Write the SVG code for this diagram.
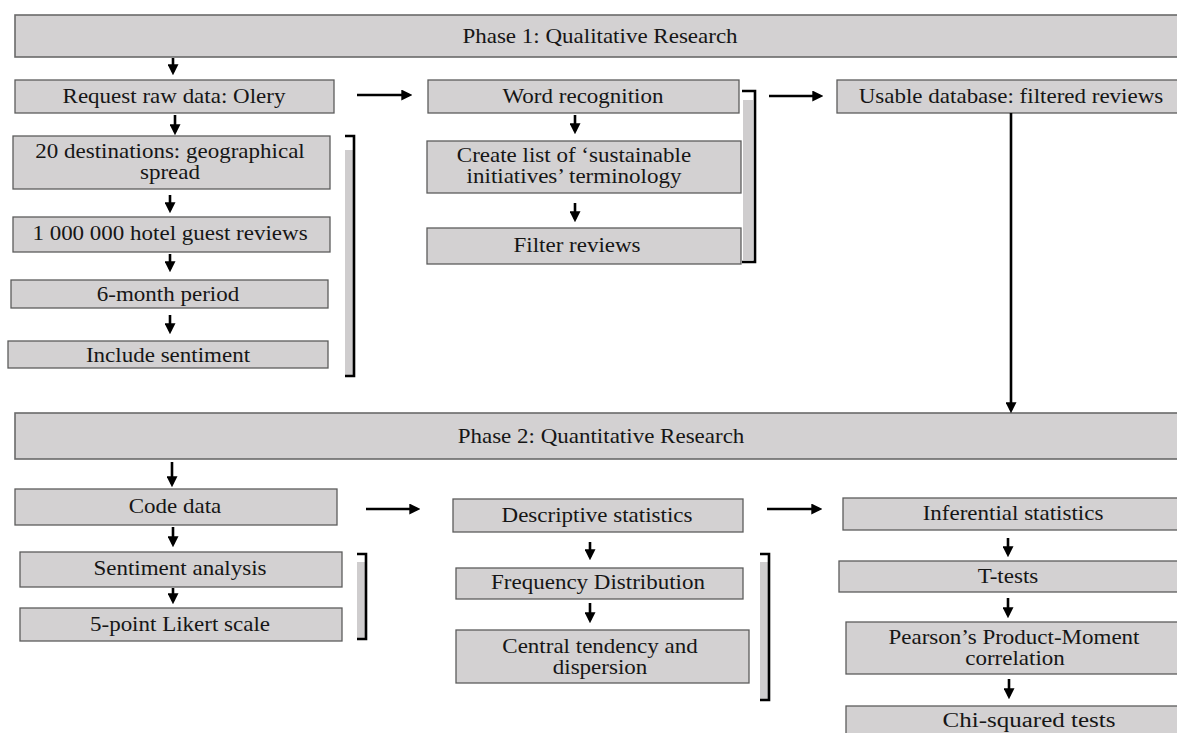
<svg xmlns="http://www.w3.org/2000/svg" width="1177" height="733" viewBox="0 0 1177 733">
<style>
.box{fill:#d3d1d2;stroke:#5c5c5c;stroke-width:1.3}
.bar{fill:#d3d1d2;stroke:#6a6a6a;stroke-width:1.6}
.t{font-family:"Liberation Serif","Times New Roman",serif;font-size:20px;fill:#161616;text-anchor:middle}
.c{stroke:#000;stroke-width:2.6;fill:none;marker-end:url(#ah)}
.br{stroke:#000;stroke-width:2.6;fill:none}
.bf{fill:#cfcdce;stroke:none}
</style>
<defs>
<marker id="ah" viewBox="0 0 10 10" refX="7" refY="5" markerWidth="11" markerHeight="11" markerUnits="userSpaceOnUse" orient="auto">
<path d="M0,0 L10,5 L0,10 z" fill="#000"/>
</marker>
</defs>
<rect width="1177" height="733" fill="#fff"/>

<g id="phase1">
<rect class="bar" x="15" y="15" width="1170" height="42"/>
<text class="t" transform="matrix(1.15 0 0 1 600 43)">Phase 1: Qualitative Research</text>
</g>
<g id="request">
<rect class="box" x="15" y="80" width="319" height="33"/>
<text class="t" transform="matrix(1.15 0 0 1 174 103)">Request raw data: Olery</text>
</g>
<g id="destinations">
<rect class="box" x="13" y="136" width="317" height="53"/>
<text class="t" transform="matrix(1.15 0 0 1 170 158)">20 destinations: geographical</text>
<text class="t" transform="matrix(1.15 0 0 1 170 179)">spread</text>
</g>
<g id="reviews">
<rect class="box" x="13" y="217" width="317" height="35"/>
<text class="t" transform="matrix(1.15 0 0 1 170 240)">1 000 000 hotel guest reviews</text>
</g>
<g id="period">
<rect class="box" x="11" y="280" width="317" height="28"/>
<text class="t" transform="matrix(1.15 0 0 1 168 301)">6-month period</text>
</g>
<g id="sentiment">
<rect class="box" x="8" y="341" width="320" height="27"/>
<text class="t" transform="matrix(1.15 0 0 1 168 362)">Include sentiment</text>
</g>
<g id="word">
<rect class="box" x="428" y="80" width="311" height="33"/>
<text class="t" transform="matrix(1.15 0 0 1 583 103)">Word recognition</text>
</g>
<g id="createlist">
<rect class="box" x="427" y="141" width="314" height="52"/>
<text class="t" transform="matrix(1.15 0 0 1 574 162)">Create list of ‘sustainable</text>
<text class="t" transform="matrix(1.15 0 0 1 574 183)">initiatives’ terminology</text>
</g>
<g id="filter">
<rect class="box" x="427" y="228" width="314" height="36"/>
<text class="t" transform="matrix(1.15 0 0 1 577 252)">Filter reviews</text>
</g>
<g id="usable">
<rect class="box" x="837" y="80" width="350" height="33"/>
<text class="t" transform="matrix(1.15 0 0 1 1011 103)">Usable database: filtered reviews</text>
</g>

<g id="phase2">
<rect class="bar" x="15" y="413" width="1170" height="46"/>
<text class="t" transform="matrix(1.15 0 0 1 601 443)">Phase 2: Quantitative Research</text>
</g>
<g id="code">
<rect class="box" x="15" y="489" width="322" height="36"/>
<text class="t" transform="matrix(1.15 0 0 1 175 513)">Code data</text>
</g>
<g id="sentimentanalysis">
<rect class="box" x="20" y="552" width="322" height="35"/>
<text class="t" transform="matrix(1.15 0 0 1 180 575)">Sentiment analysis</text>
</g>
<g id="likert">
<rect class="box" x="20" y="608" width="322" height="33"/>
<text class="t" transform="matrix(1.15 0 0 1 180 631)">5-point Likert scale</text>
</g>
<g id="descriptive">
<rect class="box" x="453" y="499" width="290" height="33"/>
<text class="t" transform="matrix(1.15 0 0 1 597 522)">Descriptive statistics</text>
</g>
<g id="frequency">
<rect class="box" x="456" y="568" width="287" height="31"/>
<text class="t" transform="matrix(1.15 0 0 1 598 589)">Frequency Distribution</text>
</g>
<g id="central">
<rect class="box" x="456" y="630" width="293" height="53"/>
<text class="t" transform="matrix(1.15 0 0 1 600 653)">Central tendency and</text>
<text class="t" transform="matrix(1.15 0 0 1 600 674)">dispersion</text>
</g>
<g id="inferential">
<rect class="box" x="843" y="498" width="344" height="32"/>
<text class="t" transform="matrix(1.15 0 0 1 1013 520)">Inferential statistics</text>
</g>
<g id="ttests">
<rect class="box" x="839" y="561" width="348" height="31"/>
<text class="t" transform="matrix(1.15 0 0 1 1008 583)">T-tests</text>
</g>
<g id="pearson">
<rect class="box" x="846" y="622" width="341" height="52"/>
<text class="t" transform="matrix(1.15 0 0 1 1014 644)">Pearson’s Product-Moment</text>
<text class="t" transform="matrix(1.15 0 0 1 1015 665)">correlation</text>
</g>
<g id="chisquared">
<rect class="box" x="846" y="706" width="341" height="40"/>
<text class="t" transform="matrix(1.25 0 0 1 1029 727)">Chi-squared tests</text>
</g>

<g id="brackets">
<rect class="bf" x="345" y="150" width="8" height="225"/>
<path class="br" d="M345,136 H354 V376 H345"/>
<rect class="bf" x="743" y="100" width="10" height="160"/>
<path class="br" d="M742,91 H755 V262 H742"/>
<rect class="bf" x="357" y="562" width="8" height="76"/>
<path class="br" d="M357,554 H366 V639 H357"/>
<rect class="bf" x="760" y="562" width="8" height="137"/>
<path class="br" d="M760,554 H769 V700 H760"/>
</g>

<g id="connectors">
<line class="c" x1="173" y1="58" x2="173" y2="72"/>
<line class="c" x1="175" y1="115" x2="175" y2="132"/>
<line class="c" x1="170" y1="195" x2="170" y2="210"/>
<line class="c" x1="170" y1="254" x2="170" y2="269"/>
<line class="c" x1="170" y1="315" x2="170" y2="331"/>
<line class="c" x1="575" y1="115" x2="575" y2="131"/>
<line class="c" x1="575" y1="203" x2="575" y2="219"/>
<line class="c" x1="1011" y1="113" x2="1011" y2="410"/>
<line class="c" x1="357" y1="95" x2="409" y2="95"/>
<line class="c" x1="769" y1="96" x2="820" y2="96"/>
<line class="c" x1="172" y1="462" x2="172" y2="484"/>
<line class="c" x1="173" y1="527" x2="173" y2="544"/>
<line class="c" x1="173" y1="588" x2="173" y2="601"/>
<line class="c" x1="590" y1="542" x2="590" y2="557"/>
<line class="c" x1="590" y1="603" x2="590" y2="620"/>
<line class="c" x1="1008" y1="538" x2="1008" y2="554"/>
<line class="c" x1="1008" y1="598" x2="1008" y2="615"/>
<line class="c" x1="1009" y1="679" x2="1009" y2="696"/>
<line class="c" x1="366" y1="509" x2="417" y2="509"/>
<line class="c" x1="767" y1="509" x2="819" y2="509"/>
</g>
</svg>
